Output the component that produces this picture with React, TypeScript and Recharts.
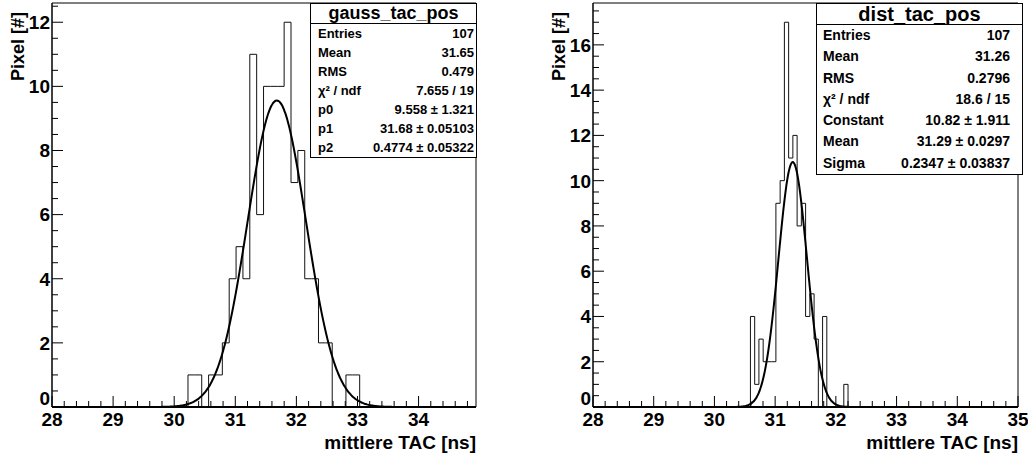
import { ComposedChart, Line, ReferenceLine, XAxis, YAxis } from "recharts"

const FONT = '"Liberation Sans", Arial, Helvetica, sans-serif'

// gauss_tac_pos histogram (bin contents, lower edge of first bin, bin width)
const gaussBinStart = 30.226
const gaussBinWidth = 0.1124
const gaussCounts = [1, 1, 0, 1, 1, 2, 4, 5, 4, 11, 6, 10, 10, 10, 12, 7, 8, 4, 4, 2, 2, 0, 0, 1, 1]
const gaussFit = { p0: 9.558, p1: 31.68, p2: 0.4774 }
const gaussStats: [string, string][] = [
  ["Entries", "107"],
  ["Mean", "31.65"],
  ["RMS", "0.479"],
  ["χ² / ndf", "7.655 / 19"],
  ["p0", "9.558 ± 1.321"],
  ["p1", "31.68 ± 0.05103"],
  ["p2", "0.4774 ± 0.05322"],
]

// dist_tac_pos histogram
const distBinStart = 30.593
const distBinWidth = 0.0699
const distCounts = [4, 1, 3, 2, 2, 2, 9, 10, 17, 11, 12, 8, 9, 4, 5, 3, 0, 4, 0, 0, 0, 0, 1]
const distFit = { p0: 10.82, p1: 31.29, p2: 0.2347 }
const distStats: [string, string][] = [
  ["Entries", "107"],
  ["Mean", "31.26"],
  ["RMS", "0.2796"],
  ["χ² / ndf", "18.6 / 15"],
  ["Constant", "10.82 ± 1.911"],
  ["Mean", "31.29 ± 0.0297"],
  ["Sigma", "0.2347 ± 0.03837"],
]

const xTitle = "mittlere TAC [ns]"
const yTitle = "Pixel [#]"

// tick spacing: x major 1, minor 0.2; y major 2, minor 0.5
const X_MINOR = 0.2
const Y_MINOR = 0.5
const Y_MAJOR = 2

// recharts draws every tick MINOR_LEN long (pointing inwards); majors get extended
const MAJOR_LEN = 11
const MINOR_LEN = 6
const TICK_GAP = 2 // recharts' default tickMargin

type Pt = { x: number; y: number }

// outline of a histogram drawn as a step line
function histOutline(start: number, width: number, counts: number[]): Pt[] {
  const pts: Pt[] = [{ x: start, y: 0 }]
  counts.forEach((c, i) => pts.push({ x: start + i * width, y: c }))
  pts.push({ x: start + counts.length * width, y: 0 })
  return pts
}

// gaussian fit function sampled over the axis range
function fitCurve(f: { p0: number; p1: number; p2: number }, lo: number, hi: number): Pt[] {
  const n = 400
  const pts: Pt[] = []
  for (let i = 0; i <= n; i++) {
    const x = lo + ((hi - lo) * i) / n
    pts.push({ x, y: f.p0 * Math.exp(-0.5 * ((x - f.p1) / f.p2) ** 2) })
  }
  return pts
}

function steps(lo: number, hi: number, step: number) {
  const out: number[] = []
  for (let v = lo; v <= hi + 1e-9; v += step) out.push(+v.toFixed(4))
  return out
}

const isInt = (v: number, every = 1) => Math.abs(v / every - Math.round(v / every)) < 1e-6

// label (and longer mark) for major ticks of the bottom axis
const XTick = (props: any) => {
  const { x, payload } = props
  const axisY = props.y + MINOR_LEN - TICK_GAP
  const v = payload.value as number
  if (!isInt(v)) return <g />
  return (
    <g>
      <path d={`M${x},${axisY - MINOR_LEN}v${MINOR_LEN - MAJOR_LEN}`} stroke="#000" strokeWidth={1} fill="none" />
      <text x={x} y={axisY + 19} textAnchor="middle" fontFamily={FONT} fontWeight="bold" fontSize={19} fill="#000">
        {Math.round(v)}
      </text>
    </g>
  )
}

// label (and longer mark) for major ticks of the left axis
const YTick = (props: any) => {
  const { y, payload } = props
  const axisX = props.x - MINOR_LEN + TICK_GAP
  const v = payload.value as number
  if (!isInt(v, Y_MAJOR)) return <g />
  return (
    <g>
      <path d={`M${axisX + MINOR_LEN},${y}h${MAJOR_LEN - MINOR_LEN}`} stroke="#000" strokeWidth={1} fill="none" />
      <text
        x={axisX - 2}
        y={v === 0 ? y - 2 : y}
        dy={v === 0 ? 0 : "0.36em"}
        textAnchor="end"
        fontFamily={FONT}
        fontWeight="bold"
        fontSize={19}
        fill="#000"
      >
        {Math.round(v)}
      </text>
    </g>
  )
}

type BoxProps = {
  left: number
  width: number
  titleH: number
  rowH: number
  title: string
  titleSize: number
  fontSize: number
  padL: number
  padR: number
  rows: [string, string][]
}

function StatBox(p: BoxProps) {
  return (
    <div
      style={{
        position: "absolute",
        left: p.left,
        top: 3,
        width: p.width,
        border: "1px solid #000",
        background: "#fff",
        boxSizing: "border-box",
        fontFamily: FONT,
        fontWeight: "bold",
        color: "#000",
      }}
    >
      <div
        style={{
          height: p.titleH,
          lineHeight: p.titleH + "px",
          fontSize: p.titleSize,
          textAlign: "center",
          borderBottom: "1px solid #000",
        }}
      >
        {p.title}
      </div>
      {p.rows.map(([k, v], i) => (
        <div
          key={i}
          style={{
            display: "flex",
            justifyContent: "space-between",
            height: p.rowH,
            lineHeight: p.rowH + "px",
            fontSize: p.fontSize,
            paddingLeft: p.padL,
            paddingRight: p.padR,
          }}
        >
          <span>{k}</span>
          <span>{v}</span>
        </div>
      ))}
    </div>
  )
}

type PanelProps = {
  left: number
  margin: { top: number; right: number; bottom: number; left: number }
  xMax: number
  yMax: number
  hist: Pt[]
  fit: Pt[]
}

function Panel({ left, margin, xMax, yMax, hist, fit }: PanelProps) {
  return (
    <ComposedChart width={514} height={458} margin={margin} style={{ position: "absolute", left, top: 0 }}>
      <ReferenceLine y={yMax} stroke="#000" strokeWidth={1} />
      <ReferenceLine x={xMax} stroke="#000" strokeWidth={1} />
      <Line
        data={hist}
        dataKey="y"
        type="stepAfter"
        stroke="#111"
        strokeWidth={1}
        dot={false}
        activeDot={false}
        isAnimationActive={false}
      />
      <Line
        data={fit}
        dataKey="y"
        type="monotone"
        stroke="#000"
        strokeWidth={2}
        dot={false}
        activeDot={false}
        isAnimationActive={false}
      />
      <XAxis
        type="number"
        dataKey="x"
        domain={[28, xMax]}
        ticks={steps(28, xMax, X_MINOR)}
        interval={0}
        height={1}
        tickSize={-MINOR_LEN}
        tickLine={{ stroke: "#000", strokeWidth: 1 }}
        axisLine={{ stroke: "#000", strokeWidth: 2 }}
        tick={<XTick />}
      />
      <YAxis
        type="number"
        dataKey="y"
        domain={[0, yMax]}
        ticks={steps(0, yMax, Y_MINOR)}
        interval={0}
        width={1}
        tickSize={-MINOR_LEN}
        tickLine={{ stroke: "#000", strokeWidth: 1 }}
        axisLine={{ stroke: "#000", strokeWidth: 1.5 }}
        tick={<YTick />}
      />
    </ComposedChart>
  )
}

export default function App() {
  const leftMax = 34.94
  const rightMax = 35
  return (
    <div style={{ position: "absolute", left: 0, top: 0, width: 1028, height: 458, background: "#fff", overflow: "hidden" }}>
      <Panel
        left={0}
        margin={{ top: 3, right: 38, bottom: 50, left: 51 }}
        xMax={leftMax}
        yMax={12.6}
        hist={histOutline(gaussBinStart, gaussBinWidth, gaussCounts)}
        fit={fitCurve(gaussFit, 28, leftMax)}
      />
      <Panel
        left={514}
        margin={{ top: 3, right: 10, bottom: 50, left: 78 }}
        xMax={rightMax}
        yMax={17.85}
        hist={histOutline(distBinStart, distBinWidth, distCounts)}
        fit={fitCurve(distFit, 28, rightMax)}
      />
      <svg width={1028} height={458} style={{ position: "absolute", left: 0, top: 0, pointerEvents: "none" }}>
        <g fontFamily={FONT} fontWeight="bold" fill="#000">
          <text transform="translate(24,12) rotate(-90)" textAnchor="end" fontSize={18}>
            {yTitle}
          </text>
          <text transform="translate(565,12) rotate(-90)" textAnchor="end" fontSize={18}>
            {yTitle}
          </text>
          <text x={476} y={449} textAnchor="end" fontSize={19}>
            {xTitle}
          </text>
          <text x={1018} y={449} textAnchor="end" fontSize={19}>
            {xTitle}
          </text>
        </g>
      </svg>
      <StatBox
        left={310}
        width={167}
        titleH={19}
        rowH={19}
        title="gauss_tac_pos"
        titleSize={18}
        fontSize={13}
        padL={7}
        padR={2}
        rows={gaussStats}
      />
      <StatBox
        left={816}
        width={207}
        titleH={20}
        rowH={21.3}
        title="dist_tac_pos"
        titleSize={20}
        fontSize={14}
        padL={6}
        padR={12}
        rows={distStats}
      />
    </div>
  )
}
